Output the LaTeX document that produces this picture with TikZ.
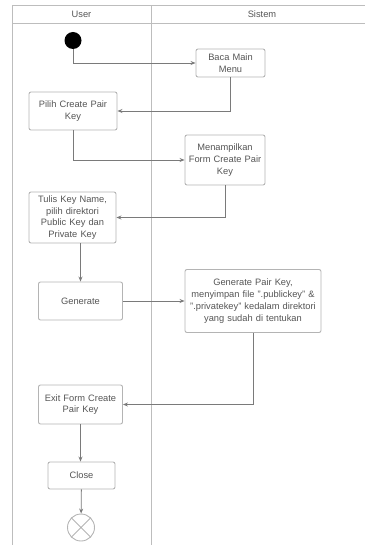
\documentclass[tikz,border=0pt]{standalone}
\usepackage{fontspec}
\setmainfont{Liberation Sans}
\usetikzlibrary{arrows.meta}
\definecolor{boxline}{HTML}{B4B4B4}
\definecolor{flowline}{HTML}{7A7A7A}
\definecolor{labeltext}{HTML}{555555}
\definecolor{laneline}{HTML}{BDBDBD}
\tikzset{
  act/.style={draw=boxline, line width=0.9pt, rounded corners=2pt, fill=white,
    align=center, text=labeltext, inner sep=1pt,
    font=\fontsize{9.3}{11.8}\selectfont},
  flow/.style={draw=flowline, line width=0.8pt,
    -{Stealth[length=5pt,width=4pt]}},
  lane/.style={draw=laneline, line width=0.9pt},
  lanetitle/.style={text=labeltext, font=\fontsize{9.3}{11}\selectfont}
}
\begin{document}
\begin{tikzpicture}[x=1pt,y=-1pt]
\useasboundingbox (0,0) rectangle (364,545);
% swimlane frame
\draw[lane] (12,546) -- (12,5.5) -- (366,5.5);
\draw[lane] (12,23.5) -- (366,23.5);
\draw[lane] (151,5.5) -- (151,546);
\node[lanetitle] (laneU) at (81.5,14.5) {User};
\node[lanetitle] (laneS) at (262,14.5) {Sistem};
% activities
\node[circle, fill=black, minimum size=17pt, inner sep=0pt] (start) at (73,40.5) {};
\node[act, minimum width=69pt, minimum height=28pt, text width=66pt] (baca) at (230.5,63) {Baca Main\\Menu};
\node[act, minimum width=88pt, minimum height=38pt, text width=85pt] (pilih) at (73,111) {Pilih Create Pair\\Key};
\node[act, minimum width=80pt, minimum height=50pt, text width=78pt] (tampil) at (225,160) {Menampilkan\\Form Create Pair\\Key};
\node[act, minimum width=87pt, minimum height=51pt, text width=84pt] (tulis) at (72.5,217.5) {Tulis Key Name,\\pilih direktori\\Public Key dan\\Private Key};
\node[act, minimum width=84pt, minimum height=38pt, text width=80pt] (gen) at (80.5,301) {Generate};
\node[act, minimum width=136pt, minimum height=63pt, text width=132pt] (simpan) at (253,301) {Generate Pair Key,\\menyimpan file ".publickey" \&\\".privatekey" kedalam direktori\\yang sudah di tentukan};
\node[act, minimum width=84pt, minimum height=39pt, text width=80pt] (keluar) at (80.5,404.5) {Exit Form Create\\Pair Key};
\node[act, minimum width=67pt, minimum height=27pt, text width=64pt] (tutup) at (81.5,475.5) {Close};
\node[circle, draw=boxline, line width=0.9pt, minimum size=27pt, inner sep=0pt] (akhir) at (81,527.5) {};
\draw[boxline, line width=0.9pt] (akhir.north west) -- (akhir.south east)
  (akhir.north east) -- (akhir.south west);
% control flow
\draw[flow] (start) |- (baca);
\draw[flow] (baca) |- (pilih);
\draw[flow] (pilih) |- (tampil);
\draw[flow] (tampil) |- (tulis);
\draw[flow] (gen.north |- tulis.south) -- (gen.north);
\draw[flow] (gen) -- (simpan);
\draw[flow] (simpan) |- (keluar);
\draw[flow] (keluar.south) -- (keluar.south |- tutup.north);
\draw[flow] (tutup) -- (akhir);
\end{tikzpicture}
\end{document}
